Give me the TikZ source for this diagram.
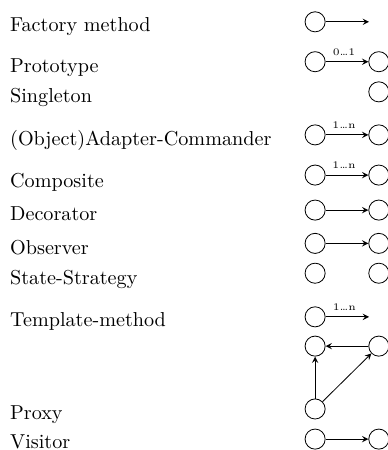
\documentclass[tikz,border=0pt]{standalone}
\begin{document}
\begin{tikzpicture}[>=stealth,
    obj/.style={draw, circle, inner sep=0pt, minimum size=0.35cm},
    lab/.style={anchor=base west, inner sep=0pt},
    card/.style={above, font=\tiny, inner sep=3pt, xshift=-0.05cm}]
    \useasboundingbox (0,0) rectangle (6.76,-7.84) ;

    % pattern names
    \node [lab] (tFactory) at (0.17,-0.54) {Factory method} ;
    \node [lab] (tProto) at (0.17,-1.27) {Prototype} ;
    \node [lab] (tSingle) at (0.17,-1.79) {Singleton} ;
    \node [lab] (tAdapt) at (0.17,-2.53) {(Object)Adapter-Commander} ;
    \node [lab] (tComp) at (0.17,-3.26) {Composite} ;
    \node [lab] (tDeco) at (0.17,-3.85) {Decorator} ;
    \node [lab] (tObs) at (0.17,-4.43) {Observer} ;
    \node [lab] (tState) at (0.17,-4.95) {State-Strategy} ;
    \node [lab] (tTempl) at (0.17,-5.68) {Template-method} ;
    \node [lab] (tProxy) at (0.17,-7.31) {Proxy} ;
    \node [lab] (tVisit) at (0.17,-7.81) {Visitor} ;

    % factory method
    \node [obj] (fmA) at (5.49,-0.38) {} ;
    \coordinate (fmEnd) at (6.43,-0.38) ;
    \draw [->] (fmA) -- (fmEnd) ;

    % prototype
    \node [obj] (prA) at (5.49,-1.075) {} ;
    \node [obj] (prB) at (6.60,-1.075) {} ;
    \draw [->] (prA) -- node [card] {0\ldots1} (prB) ;

    % singleton
    \node [obj] (sgB) at (6.60,-1.60) {} ;

    % adapter
    \node [obj] (adA) at (5.49,-2.35) {} ;
    \node [obj] (adB) at (6.60,-2.35) {} ;
    \draw [->] (adA) -- node [card] {1\ldots n} (adB) ;

    % composite
    \node [obj] (coA) at (5.49,-3.05) {} ;
    \node [obj] (coB) at (6.60,-3.05) {} ;
    \draw [->] (coA) -- node [card] {1\ldots n} (coB) ;

    % decorator
    \node [obj] (deA) at (5.49,-3.66) {} ;
    \node [obj] (deB) at (6.60,-3.66) {} ;
    \draw [->] (deA) -- (deB) ;

    % observer
    \node [obj] (obA) at (5.49,-4.24) {} ;
    \node [obj] (obB) at (6.60,-4.24) {} ;
    \draw [->] (obA) -- (obB) ;

    % state-strategy
    \node [obj] (stA) at (5.49,-4.76) {} ;
    \node [obj] (stB) at (6.60,-4.76) {} ;

    % template method
    \node [obj] (tmA) at (5.49,-5.52) {} ;
    \coordinate (tmEnd) at (6.43,-5.52) ;
    \draw [->] (tmA) -- node [card] {1\ldots n} (tmEnd) ;

    % proxy
    \node [obj] (pxA) at (5.49,-6.03) {} ;
    \node [obj] (pxB) at (6.60,-6.03) {} ;
    \node [obj] (pxC) at (5.49,-7.125) {} ;
    \draw [->] (pxB) -- (pxA) ;
    \draw [->] (pxC) -- (pxA) ;
    \draw [->] (pxC) -- (pxB) ;

    % visitor
    \node [obj] (viA) at (5.49,-7.65) {} ;
    \node [obj] (viB) at (6.60,-7.65) {} ;
    \draw [->] (viA) -- (viB) ;
\end{tikzpicture}
\end{document}
